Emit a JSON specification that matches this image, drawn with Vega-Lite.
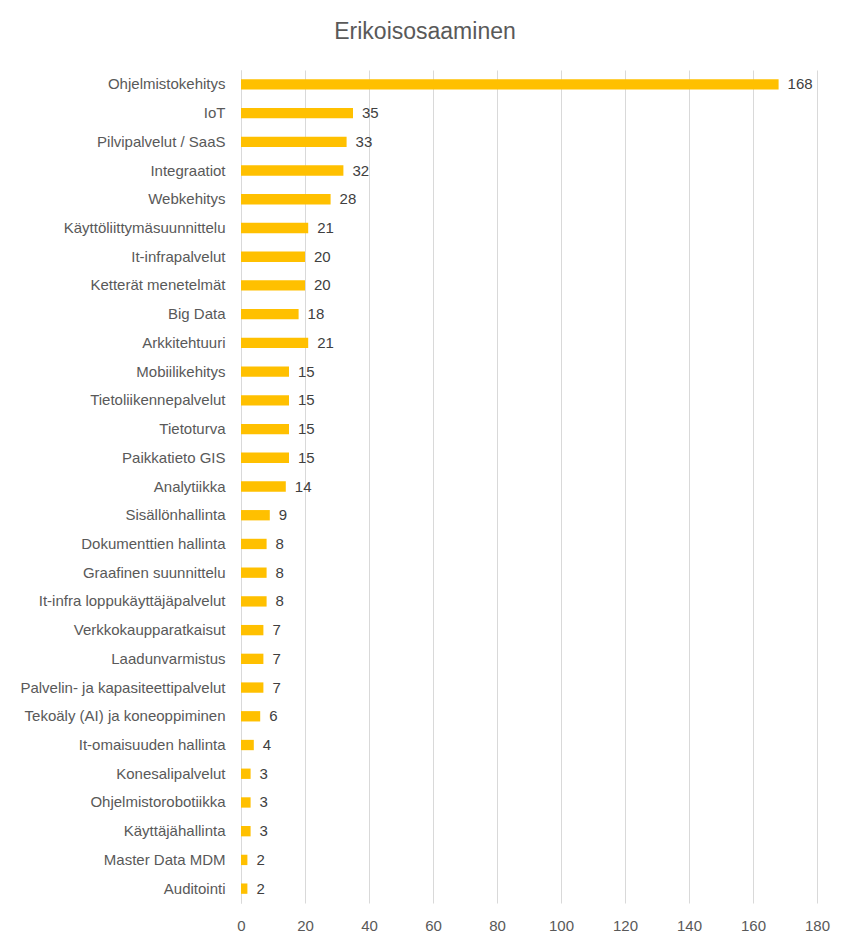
{
  "$schema": "https://vega.github.io/schema/vega-lite/v6.json",
  "autosize": {"type": "none"},
  "padding": {"left": 241, "top": 70, "right": 33, "bottom": 45},
  "width": 576,
  "height": 833,
  "background": "#ffffff",
  "title": {
    "text": "Erikoisosaaminen",
    "anchor": "middle",
    "dx": -104,
    "offset": 26,
    "fontSize": 23,
    "font": "Liberation Sans",
    "fontWeight": "normal",
    "color": "#595959"
  },
  "config": {
    "view": {"stroke": null},
    "font": "Liberation Sans"
  },
  "data": {
    "values": [
      {"order": 1, "category": "Ohjelmistokehitys", "value": 168},
      {"order": 2, "category": "IoT", "value": 35},
      {"order": 3, "category": "Pilvipalvelut / SaaS", "value": 33},
      {"order": 4, "category": "Integraatiot", "value": 32},
      {"order": 5, "category": "Webkehitys", "value": 28},
      {"order": 6, "category": "Käyttöliittymäsuunnittelu", "value": 21},
      {"order": 7, "category": "It-infrapalvelut", "value": 20},
      {"order": 8, "category": "Ketterät menetelmät", "value": 20},
      {"order": 9, "category": "Big Data", "value": 18},
      {"order": 10, "category": "Arkkitehtuuri", "value": 21},
      {"order": 11, "category": "Mobiilikehitys", "value": 15},
      {"order": 12, "category": "Tietoliikennepalvelut", "value": 15},
      {"order": 13, "category": "Tietoturva", "value": 15},
      {"order": 14, "category": "Paikkatieto GIS", "value": 15},
      {"order": 15, "category": "Analytiikka", "value": 14},
      {"order": 16, "category": "Sisällönhallinta", "value": 9},
      {"order": 17, "category": "Dokumenttien hallinta", "value": 8},
      {"order": 18, "category": "Graafinen suunnittelu", "value": 8},
      {"order": 19, "category": "It-infra loppukäyttäjäpalvelut", "value": 8},
      {"order": 20, "category": "Verkkokaupparatkaisut", "value": 7},
      {"order": 21, "category": "Laadunvarmistus", "value": 7},
      {"order": 22, "category": "Palvelin- ja kapasiteettipalvelut", "value": 7},
      {"order": 23, "category": "Tekoäly (AI) ja koneoppiminen", "value": 6},
      {"order": 24, "category": "It-omaisuuden hallinta", "value": 4},
      {"order": 25, "category": "Konesalipalvelut", "value": 3},
      {"order": 26, "category": "Ohjelmistorobotiikka", "value": 3},
      {"order": 27, "category": "Käyttäjähallinta", "value": 3},
      {"order": 28, "category": "Master Data MDM", "value": 2},
      {"order": 29, "category": "Auditointi", "value": 2}
    ]
  },
  "encoding": {
    "y": {
      "field": "category",
      "type": "nominal",
      "sort": {"field": "order", "op": "min", "order": "ascending"},
      "scale": {"paddingInner": 0.64, "paddingOuter": 0.32},
      "axis": {
        "title": null,
        "ticks": false,
        "domain": true,
        "domainColor": "#d9d9d9",
        "labelPadding": 16,
        "labelLimit": 0,
        "labelFontSize": 15,
        "labelColor": "#595959",
        "labelFont": "Liberation Sans"
      }
    },
    "x": {
      "field": "value",
      "type": "quantitative",
      "scale": {"domain": [0, 180], "nice": false},
      "axis": {
        "title": null,
        "values": [0, 20, 40, 60, 80, 100, 120, 140, 160, 180],
        "ticks": false,
        "domain": false,
        "grid": true,
        "gridColor": "#d9d9d9",
        "labelFlush": false,
        "labelOverlap": false,
        "labelPadding": 15,
        "labelFontSize": 15,
        "labelColor": "#595959",
        "labelFont": "Liberation Sans"
      }
    }
  },
  "layer": [
    {"mark": {"type": "bar", "color": "#ffc000"}},
    {
      "mark": {"type": "text", "align": "left", "dx": 9, "fontSize": 15, "color": "#404040", "font": "Liberation Sans"},
      "encoding": {"text": {"field": "value", "type": "quantitative"}}
    }
  ]
}
